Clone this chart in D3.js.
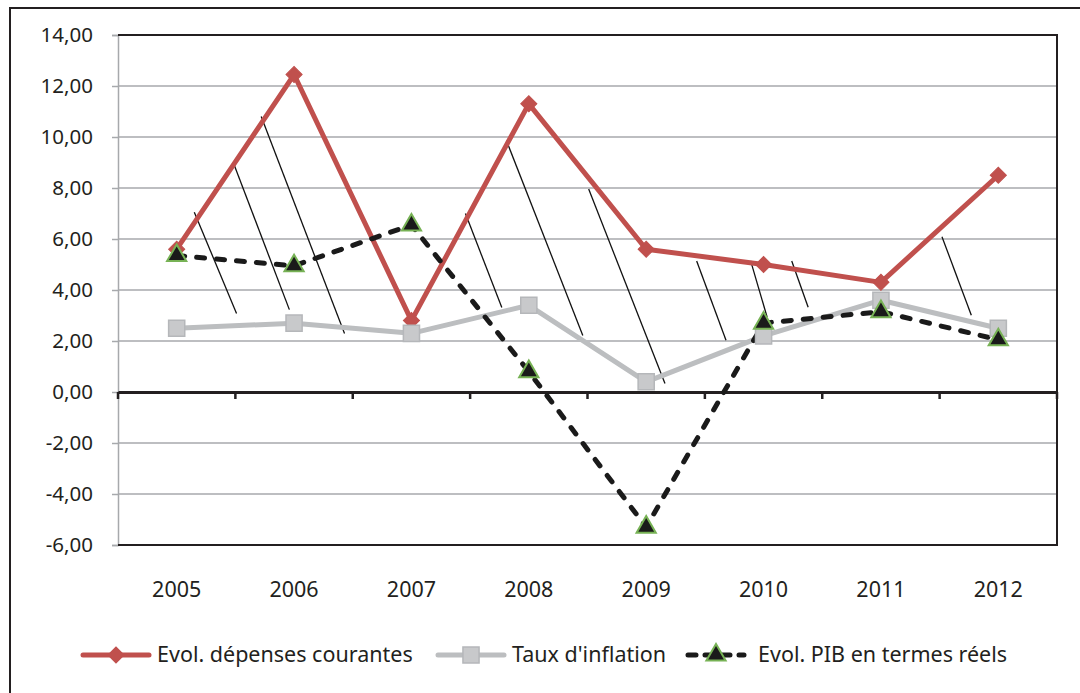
<!DOCTYPE html>
<html>
<head>
<meta charset="utf-8">
<script src="https://cdn.jsdelivr.net/npm/d3@7"></script>
<style>
  body { margin: 0; background: #fff; }
  svg { display: block; font-family: 'Noto Sans', 'Open Sans', sans-serif; }
</style>
</head>
<body>
<div id="chart"></div>
<script>
const years = ['2005', '2006', '2007', '2008', '2009', '2010', '2011', '2012']
const depenses = [5.6, 12.45, 2.8, 11.3, 5.6, 5.0, 4.3, 8.5]
const inflation = [2.5, 2.7, 2.3, 3.4, 0.4, 2.2, 3.6, 2.5]
const pib = [5.35, 4.95, 6.55, 0.8, -5.3, 2.7, 3.15, 2.05]
const yTicks = [14, 12, 10, 8, 6, 4, 2, 0, -2, -4, -6]
const seriesNames = ['Evol. dépenses courantes', "Taux d'inflation", 'Evol. PIB en termes réels']

// thin hand-drawn hatch strokes, in (category index, value) units
const hatches = [
  [[0.15, 7.05], [0.51, 3.08]],
  [[0.49, 8.9], [0.96, 3.23]],
  [[0.72, 10.8], [1.43, 2.29]],
  [[2.46, 7.0], [2.77, 3.31]],
  [[2.81, 9.85], [3.46, 2.22]],
  [[3.51, 7.96], [4.16, 0.33]],
  [[4.43, 5.14], [4.68, 2.03]],
  [[4.89, 5.14], [5.03, 2.94]],
  [[5.24, 5.14], [5.38, 3.32]],
  [[6.52, 6.09], [6.77, 3.01]]
]

const W = 1080, H = 693
const plot = { left: 118, top: 35, right: 1057, bottom: 545 }

var svg = d3.select('#chart').append('svg')
    .attr('width', W)
    .attr('height', H)

// outer frame (cut off right and bottom)
svg.append('path')
    .attr('d', 'M10,' + (H + 5) + ' V8 H' + (W + 5))
    .attr('fill', 'none')
    .attr('stroke', '#231f20')
    .attr('stroke-width', 2)

var x = d3.scaleBand()
    .domain(years)
    .range([plot.left, plot.right])

var xi = d3.scaleLinear()
    .domain([0, years.length - 1])
    .range([x(years[0]) + x.bandwidth() / 2, x(years[years.length - 1]) + x.bandwidth() / 2])

var y = d3.scaleLinear()
    .domain([-6, 14])
    .range([plot.bottom, plot.top])

var fmt = function(v) { return v.toFixed(2).replace('.', ',') }

// gridlines
svg.append('g')
    .selectAll('line')
    .data(yTicks.filter(function(d) { return d !== 0 && d !== 14 && d !== -6 }))
    .enter().append('line')
    .attr('x1', plot.left)
    .attr('x2', plot.right)
    .attr('y1', d => y(d))
    .attr('y2', d => y(d))
    .attr('stroke', '#a7a9ac')
    .attr('stroke-width', 1.5)

// y axis
var yAxis = svg.append('g')
    .attr('transform', 'translate(' + plot.left + ',0)')
    .call(d3.axisLeft(y).tickValues(yTicks).tickSize(6).tickPadding(19).tickFormat(fmt))
yAxis.select('.domain').attr('stroke', '#a7a9ac').attr('stroke-width', 1.5)
yAxis.selectAll('.tick line').attr('stroke', '#a7a9ac').attr('stroke-width', 1.5)
yAxis.selectAll('.tick text')
    .attr('font-size', 20.5)
    .attr('fill', '#231f20')
    .attr('font-family', "'Noto Sans', sans-serif")

// plot border top/right/bottom
svg.append('path')
    .attr('d', 'M' + plot.left + ',' + plot.top + ' H' + plot.right + ' V' + plot.bottom + ' H' + plot.left)
    .attr('fill', 'none')
    .attr('stroke', '#231f20')
    .attr('stroke-width', 2)

// zero line with category ticks
var xAxis = svg.append('g')
    .attr('transform', 'translate(0,' + y(0) + ')')
    .call(d3.axisBottom(x).tickSize(0).tickFormat(''))
xAxis.select('.domain').attr('stroke', '#231f20').attr('stroke-width', 3)
xAxis.selectAll('.bound')
    .data(d3.range(years.length + 1))
    .enter().append('line')
    .attr('class', 'bound')
    .attr('x1', i => plot.left + i * x.bandwidth())
    .attr('x2', i => plot.left + i * x.bandwidth())
    .attr('y1', 0)
    .attr('y2', 7)
    .attr('stroke', '#231f20')
    .attr('stroke-width', 2.5)

// category labels
svg.append('g')
    .selectAll('text')
    .data(years)
    .enter().append('text')
    .attr('x', d => x(d) + x.bandwidth() / 2)
    .attr('y', 597)
    .attr('text-anchor', 'middle')
    .attr('font-size', 21.5)
    .attr('fill', '#231f20')
    .text(d => d)

// hatch strokes
svg.append('g')
    .selectAll('line')
    .data(hatches)
    .enter().append('line')
    .attr('x1', d => xi(d[0][0]))
    .attr('y1', d => y(d[0][1]))
    .attr('x2', d => xi(d[1][0]))
    .attr('y2', d => y(d[1][1]))
    .attr('stroke', '#111')
    .attr('stroke-width', 1.3)

var line = d3.line()
    .x(function(d, i) { return x(years[i]) + x.bandwidth() / 2 })
    .y(function(d) { return y(d) })

// series
svg.append('path')
    .datum(depenses)
    .attr('d', line)
    .attr('fill', 'none')
    .attr('stroke', '#c0504d')
    .attr('stroke-width', 5)
    .attr('stroke-linejoin', 'round')

svg.append('path')
    .datum(inflation)
    .attr('d', line)
    .attr('fill', 'none')
    .attr('stroke', '#bcbec0')
    .attr('stroke-width', 5)
    .attr('stroke-linejoin', 'round')

svg.append('path')
    .datum(pib)
    .attr('d', line)
    .attr('fill', 'none')
    .attr('stroke', '#1a1a1a')
    .attr('stroke-width', 5)
    .attr('stroke-dasharray', '8,12')
    .attr('stroke-linecap', 'round')

var diamond = d3.symbol().type(d3.symbolSquare).size(130)
var triangle = d3.symbol().type(d3.symbolTriangle).size(160)

function drawMarkers(data, kind) {
  var g = svg.append('g')
  g.selectAll('path')
    .data(data)
    .enter().append('path')
    .attr('transform', function(d, i) {
      var t = 'translate(' + (x(years[i]) + x.bandwidth() / 2) + ',' + y(d) + ')'
      return kind === 'diamond' ? t + ' rotate(45)' : t
    })
    .each(function() { styleMarker(d3.select(this), kind) })
}

function styleMarker(sel, kind) {
  if (kind === 'diamond') {
    sel.attr('d', diamond).attr('fill', '#c0504d').attr('stroke', '#c0504d').attr('stroke-width', 1)
  } else if (kind === 'square') {
    sel.attr('d', d3.symbol().type(d3.symbolSquare).size(260))
      .attr('fill', '#c8c9cb').attr('stroke', '#b5b7ba').attr('stroke-width', 1.5)
  } else {
    sel.attr('d', triangle).attr('fill', '#1a1a1a').attr('stroke', '#77b255').attr('stroke-width', 2)
  }
}

drawMarkers(depenses, 'diamond')
drawMarkers(inflation, 'square')
drawMarkers(pib, 'triangle')

// legend
var legendY = 655
var legendItems = [
  { name: seriesNames[0], x: 83, kind: 'diamond', color: '#c0504d', dash: null, textX: 157 },
  { name: seriesNames[1], x: 438, kind: 'square', color: '#bcbec0', dash: null, textX: 512 },
  { name: seriesNames[2], x: 688, kind: 'triangle', color: '#1a1a1a', dash: '8,9', textX: 758 }
]

var legend = svg.append('g')
legendItems.forEach(function(it) {
  var len = it.kind === 'triangle' ? 56 : 66
  legend.append('line')
    .attr('x1', it.x)
    .attr('x2', it.x + len)
    .attr('y1', legendY)
    .attr('y2', legendY)
    .attr('stroke', it.color)
    .attr('stroke-width', 5)
    .attr('stroke-linecap', 'round')
    .attr('stroke-dasharray', it.dash)
  var m = legend.append('path')
    .attr('transform', 'translate(' + (it.x + len / 2) + ',' + legendY + ')' + (it.kind === 'diamond' ? ' rotate(45)' : ''))
  styleMarker(m, it.kind)
  legend.append('text')
    .attr('x', it.textX)
    .attr('y', legendY + 7)
    .attr('font-size', 21.5)
    .attr('fill', '#231f20')
    .text(it.name)
})
</script>
</body>
</html>
